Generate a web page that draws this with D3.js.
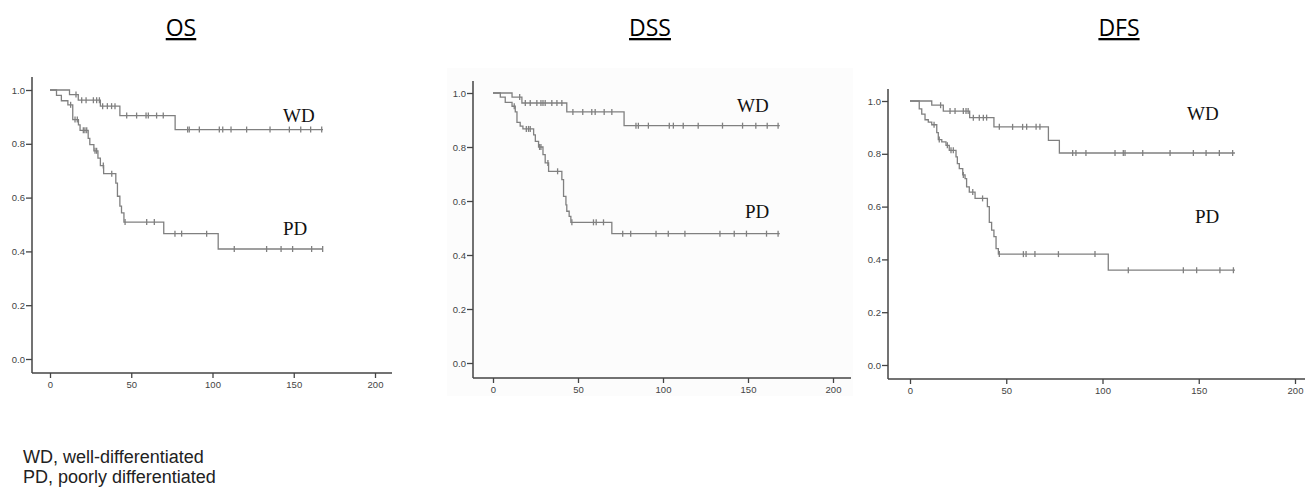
<!DOCTYPE html>
<html>
<head>
<meta charset="utf-8">
<script src="https://cdn.jsdelivr.net/npm/d3@7"></script>
<style>
  body { margin: 0; background: #fff; }
  svg { display: block; }
</style>
</head>
<body>
<div id="chart"></div>
<script>
// tick labels
var xTicks = [0, 50, 100, 150, 200];
var yTicks = [0.0, 0.2, 0.4, 0.6, 0.8, 1.0];
var panelTitles = ["OS", "DSS", "DFS"];

// OS
var osWdTime = [0, 12, 17.4, 31, 43, 77, 168];
var osWdSurv = [1.0, 0.983, 0.962, 0.94, 0.905, 0.853, 0.853];
var osWdCensor = [16, 19.5, 22.2, 26.7, 28.7, 30.4, 32.4, 35.3, 37.9, 40, 47.2, 53.3, 59.1, 60.5, 65.6, 69.7,
  84.7, 85.7, 91.9, 104.2, 106.3, 111.4, 121, 135.4, 147.3, 154.3, 160.4, 167.2];
var osPdTime = [0, 4, 7, 11, 14, 17.5, 18.5, 23.5, 24.5, 27, 29.5, 31, 33, 40.5, 41.5, 43, 44, 45.5, 70, 103.5, 168];
var osPdSurv = [1.0, 0.98, 0.96, 0.945, 0.89, 0.87, 0.85, 0.82, 0.797, 0.774, 0.747, 0.719, 0.689, 0.654, 0.605,
  0.568, 0.543, 0.509, 0.466, 0.409, 0.409];
var osPdCensor = [12.7, 15.4, 16.8, 20.5, 21.5, 22.6, 27.7, 28.7, 32.8, 38, 46.2, 59.5, 64.2, 76.9, 81, 96.4,
  113.4, 133.3, 142.2, 149.3, 161, 167.8];

// DSS
var dssWdTime = [0, 11.2, 17, 43.4, 77.1, 168.7];
var dssWdSurv = [1.0, 0.985, 0.963, 0.93, 0.879, 0.879];
var dssWdCensor = [15.7, 19, 21.9, 25.8, 28.2, 29.4, 30.7, 34.6, 37.6, 40.5, 47, 52.8, 58.1, 60.1, 65.4, 69.9,
  84.1, 85.5, 91.4, 103.7, 106.1, 111.9, 120.7, 135, 146.8, 154.6, 161.3, 167.7];
var dssPdTime = [0, 4.3, 7.2, 11.2, 13.1, 14.1, 16, 17.6, 23.9, 24.9, 26.8, 29.4, 30.7, 32.7, 40.5, 41.5, 42.9,
  43.4, 44.8, 45.8, 69.9, 168.7];
var dssPdSurv = [1.0, 0.985, 0.965, 0.951, 0.93, 0.891, 0.877, 0.867, 0.845, 0.821, 0.8, 0.772, 0.741, 0.71,
  0.679, 0.617, 0.586, 0.562, 0.543, 0.521, 0.479, 0.479];
var dssPdCensor = [12.5, 19.6, 20.9, 21.9, 27.4, 28.2, 32.3, 38, 46.4, 59.1, 60.7, 65, 76.3, 81, 95.9, 103.1,
  112.9, 133.5, 141.9, 149.1, 160.9, 167.7];

// DFS
var dfsWdTime = [0, 11.3, 17.3, 31, 43.6, 71.9, 77.6, 168.8];
var dfsWdSurv = [1.0, 0.984, 0.962, 0.937, 0.902, 0.851, 0.803, 0.803];
var dfsWdCensor = [15.9, 20.8, 23.4, 27.7, 29.1, 30.2, 32.9, 36, 38.1, 39.8, 46.4, 53.3, 58.5, 60.6, 65.5, 67.5,
  84.5, 86.2, 91.4, 106.5, 110.8, 111.7, 120.9, 135.1, 147.2, 153.8, 160.7, 167.6];
var dfsPdTime = [0, 4.8, 6.1, 7.8, 9.5, 11.3, 13.9, 14.7, 16.5, 18.7, 20.4, 23.9, 24.6, 25.6, 27.4, 28.6, 29.4,
  30.8, 33.8, 40.2, 41.2, 42.4, 43.6, 44.7, 45.9, 103, 168.8];
var dfsPdSurv = [1.0, 0.97, 0.95, 0.929, 0.92, 0.91, 0.88, 0.854, 0.845, 0.832, 0.813, 0.788, 0.763, 0.744, 0.72,
  0.706, 0.675, 0.655, 0.631, 0.6, 0.54, 0.511, 0.486, 0.441, 0.42, 0.359, 0.359];
var dfsPdCensor = [12.5, 15.2, 19.4, 21.3, 22.5, 27.7, 32.6, 37.7, 46.4, 58.9, 60.3, 64.9, 77.1, 96.1, 113.4,
  142, 148.9, 161, 168];

var W = 1305, H = 489;
var svg = d3.select("#chart").append("svg")
  .attr("width", W).attr("height", H);

// panel frames (pixel layout of each small plot)
var panels = [
  {title: panelTitles[0], titleX: 181, axisX: 32, axisTop: 77, x0: 50, x200: 375, xEnd: 392, y1: 90, y0: 359, axisY: 373,
    wdLab: [283, 122], pdLab: [283, 235], bg: null,
    wd: [osWdTime, osWdSurv, osWdCensor], pd: [osPdTime, osPdSurv, osPdCensor]},
  {title: panelTitles[1], titleX: 650, axisX: 473, axisTop: 81, x0: 493, x200: 833, xEnd: 851, y1: 93, y0: 363, axisY: 378,
    wdLab: [737, 112], pdLab: [745, 218], bg: [447, 68, 406, 328],
    wd: [dssWdTime, dssWdSurv, dssWdCensor], pd: [dssPdTime, dssPdSurv, dssPdCensor]},
  {title: panelTitles[2], titleX: 1119, axisX: 888, axisTop: 89, x0: 910, x200: 1295, xEnd: 1305, y1: 101, y0: 365, axisY: 379,
    wdLab: [1187, 120], pdLab: [1195, 223], bg: null,
    wd: [dfsWdTime, dfsWdSurv, dfsWdCensor], pd: [dfsPdTime, dfsPdSurv, dfsPdCensor]}
];

var curveColor = "#808080";
var axisColor = "#444";

function stepValue(times, surv, t) {
  var v = surv[0];
  for (var i = 0; i < times.length; i++) {
    if (times[i] <= t) v = surv[i];
  }
  return v;
}

panels.forEach(function(p) {
  if (p.bg) {
    svg.append("rect")
      .attr("x", p.bg[0]).attr("y", p.bg[1])
      .attr("width", p.bg[2]).attr("height", p.bg[3])
      .attr("fill", "#fcfcfc");
  }

  var x = d3.scaleLinear().domain([0, 200]).range([p.x0, p.x200]);
  var y = d3.scaleLinear().domain([0, 1]).range([p.y0, p.y1]);

  var g = svg.append("g");

  // title, underlined
  g.append("text")
    .attr("x", p.titleX).attr("y", 36)
    .attr("text-anchor", "middle")
    .attr("font-family", "Open Sans, sans-serif")
    .attr("font-size", 23)
    .attr("text-decoration", "underline")
    .attr("fill", "#000")
    .text(p.title);

  // y axis
  g.append("line")
    .attr("x1", p.axisX).attr("x2", p.axisX)
    .attr("y1", p.axisTop).attr("y2", p.axisY)
    .attr("stroke", axisColor).attr("stroke-width", 1.5);
  var yAxis = g.append("g")
    .attr("transform", "translate(" + p.axisX + ",0)")
    .call(d3.axisLeft(y).tickValues(yTicks).tickFormat(d3.format(".1f")).tickSize(6).tickSizeOuter(0));
  yAxis.select(".domain").remove();

  // x axis
  g.append("line")
    .attr("x1", p.axisX).attr("x2", p.xEnd)
    .attr("y1", p.axisY).attr("y2", p.axisY)
    .attr("stroke", axisColor).attr("stroke-width", 1.5);
  var xAxis = g.append("g")
    .attr("transform", "translate(0," + p.axisY + ")")
    .call(d3.axisBottom(x).tickValues(xTicks).tickSize(5).tickSizeOuter(0));
  xAxis.select(".domain").remove();

  [yAxis, xAxis].forEach(function(a) {
    a.selectAll(".tick line").attr("stroke", axisColor).attr("stroke-width", 1.3);
    a.selectAll(".tick text")
      .attr("font-family", "Arial, Liberation Sans, sans-serif")
      .attr("font-size", 9.5)
      .attr("fill", "#444");
  });
  yAxis.selectAll(".tick text").attr("x", -7);
  xAxis.selectAll(".tick text").attr("y", 8);

  // curves
  [p.wd, p.pd].forEach(function(c) {
    var times = c[0], surv = c[1], cens = c[2];
    var pts = times.map(function(t, i) { return [t, surv[i]]; });
    var line = d3.line()
      .x(function(d) { return x(d[0]); })
      .y(function(d) { return y(d[1]); })
      .curve(d3.curveStepAfter);
    g.append("path")
      .datum(pts)
      .attr("d", line)
      .attr("fill", "none")
      .attr("stroke", curveColor)
      .attr("stroke-width", 1.3);

    g.selectAll(null)
      .data(cens)
      .enter().append("line")
      .attr("x1", function(d) { return x(d); })
      .attr("x2", function(d) { return x(d); })
      .attr("y1", function(d) { return y(stepValue(times, surv, d)) - 3; })
      .attr("y2", function(d) { return y(stepValue(times, surv, d)) + 3; })
      .attr("stroke", curveColor)
      .attr("stroke-width", 1.3);
  });

  // group labels
  g.append("text")
    .attr("x", p.wdLab[0]).attr("y", p.wdLab[1])
    .attr("font-family", "Liberation Serif, Times New Roman, serif")
    .attr("font-size", 19)
    .attr("fill", "#111")
    .text("WD");
  g.append("text")
    .attr("x", p.pdLab[0]).attr("y", p.pdLab[1])
    .attr("font-family", "Liberation Serif, Times New Roman, serif")
    .attr("font-size", 19)
    .attr("fill", "#111")
    .text("PD");
});

// footnote
var notes = ["WD, well-differentiated", "PD, poorly differentiated"];
svg.selectAll(".note")
  .data(notes)
  .enter().append("text")
  .attr("class", "note")
  .attr("x", 23)
  .attr("y", function(d, i) { return 463 + i * 20; })
  .attr("font-family", "Arial, Liberation Sans, sans-serif")
  .attr("font-size", 18)
  .attr("fill", "#222")
  .text(function(d) { return d; });
</script>
</body>
</html>
